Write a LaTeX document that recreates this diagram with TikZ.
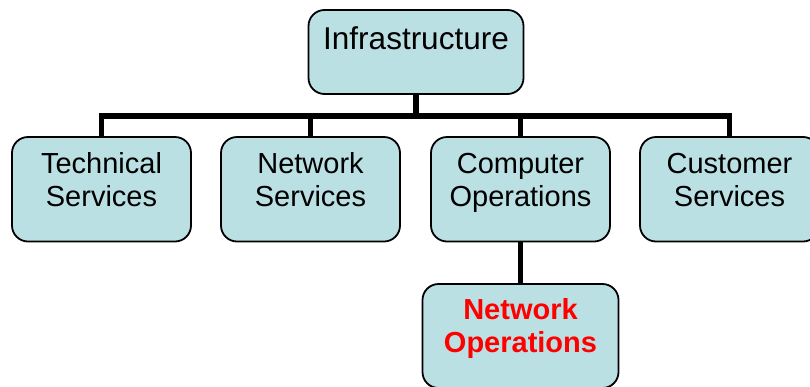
\documentclass[tikz,border=0pt]{standalone}
\usepackage{fontspec}
\setmainfont{Liberation Sans}
\usetikzlibrary{calc}
\definecolor{boxfill}{HTML}{BBE0E3}
\tikzset{
  box/.style={draw=black, line width=1.8pt, fill=boxfill, rounded corners=16pt, inner sep=0pt},
  lvltwo/.style={box, minimum width=179pt, minimum height=104.5pt},
  lbl/.style={anchor=north, inner sep=0pt, align=center, font=\fontsize{29}{33}\selectfont},
  conn/.style={line width=5.5pt, draw=black, line join=miter}
}
\begin{document}
\begin{tikzpicture}[x=1pt,y=-1pt]
\useasboundingbox (0,0) rectangle (810,386);
% boxes
\node[box, minimum width=215pt, minimum height=84pt] (infra) at (416,52) {};
\node[lvltwo] (tech) at (101.5,189.25) {};
\node[lvltwo] (net) at (310.5,189.25) {};
\node[lvltwo] (comp) at (520.5,189.25) {};
\node[lvltwo] (cust) at (729.5,189.25) {};
\node[box, minimum width=196pt, minimum height=104pt] (netops) at (520.5,336) {};
% connectors
\coordinate (j) at (416,116);
\draw[conn] (infra.south) -- (j);
\draw[conn] (tech.north) |- (j) -| (cust.north);
\draw[conn] (net.north) -- (net.north |- j);
\draw[conn] (comp.north) -- (comp.north |- j);
\draw[conn] (comp.south) -- (netops.north);
% labels
\node[lbl, font=\fontsize{31.5}{33}\selectfont] (tinfra) at ($(infra.north)+(0,17)$) {Infrastructure};
\node[lbl] (ttech) at ($(tech.north)+(0,16.5)$) {Technical\\Services};
\node[lbl] (tnet) at ($(net.north)+(0,16.5)$) {Network\\Services};
\node[lbl] (tcomp) at ($(comp.north)+(0,16.5)$) {Computer\\Operations};
\node[lbl] (tcust) at ($(cust.north)+(0,16.5)$) {Customer\\Services};
\node[lbl, text=red, font=\fontsize{29}{33}\selectfont\bfseries] (tnetops) at ($(netops.north)+(0,15)$) {Network\\Operations};
\end{tikzpicture}
\end{document}
